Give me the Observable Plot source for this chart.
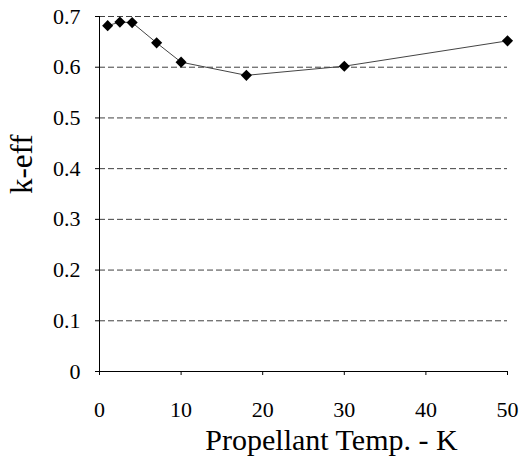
<!DOCTYPE html>
<html><head><meta charset="utf-8">
<script src="https://cdn.jsdelivr.net/npm/d3@7"></script>
<script src="https://cdn.jsdelivr.net/npm/@observablehq/plot@0.6"></script>
<style>body{margin:0;background:#fff}</style>
</head><body>
<div id="chart"></div>
<script>
const temps = [1, 2.5, 4, 7, 10, 18, 30, 50];
const keff = [0.682, 0.689, 0.688, 0.648, 0.610, 0.584, 0.602, 0.652];
const xTicks = [0, 10, 20, 30, 40, 50];
const yTicks = [0, 0.1, 0.2, 0.3, 0.4, 0.5, 0.6, 0.7];
const xLabel = "Propellant Temp. - K";
const yLabel = "k-eff";

const data = temps.map((t, i) => ({t, k: keff[i]}));
const serif = "Liberation Serif";

const chart = Plot.plot({
  width: 523, height: 472,
  marginLeft: 99, marginRight: 16, marginTop: 16, marginBottom: 101,
  x: {domain: [0, 50], label: null},
  y: {domain: [0, 0.7], label: null},
  marks: [
    Plot.gridY(yTicks.filter(d => d > 0), {stroke: "#000", strokeOpacity: 0.75, strokeDasharray: "6,3"}),
    Plot.ruleX([0], {stroke: "#000"}),
    Plot.ruleY([0], {stroke: "#000"}),
    Plot.axisX(xTicks, {tickSize: 4, tickPadding: 26, label: null, fontFamily: serif, fontSize: 22}),
    Plot.axisY(yTicks, {tickSize: 4, tickPadding: 15, tickFormat: d3.format("~g"), label: null, fontFamily: serif, fontSize: 22}),
    Plot.text([xLabel], {frameAnchor: "bottom", dx: 28, dy: 78, fontSize: 30, fontFamily: serif}),
    Plot.text([yLabel], {frameAnchor: "left", dx: -77, rotate: -90, fontSize: 31, fontFamily: serif}),
    Plot.line(data, {x: "t", y: "k", stroke: "#444", strokeWidth: 1}),
    Plot.dot(data, {x: "t", y: "k", symbol: "diamond2", r: 5, fill: "#000"})
  ]
});
document.getElementById("chart").append(chart);
</script>
</body></html>
